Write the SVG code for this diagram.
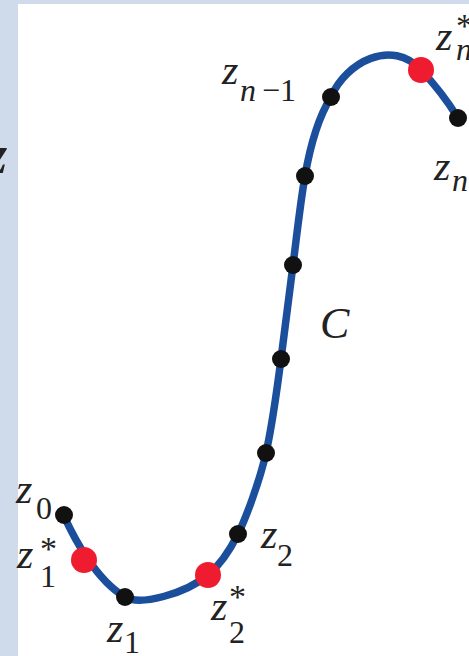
<svg xmlns="http://www.w3.org/2000/svg" width="469" height="656" viewBox="0 0 469 656">
<style>
.it{font-family:'Liberation Serif','Times New Roman',Times,serif;font-style:italic;fill:#222}
.rm{font-family:'Liberation Serif','Times New Roman',Times,serif;fill:#222}
.z{font-size:42px}
.s{font-size:32px}
.st{font-size:34px}
.bd{fill:#111}
.rd{fill:#ee1c2e}
</style>
<rect x="0" y="0" width="469" height="656" fill="#cfdbeb"/>
<rect x="18" y="4" width="451" height="652" fill="#ffffff"/>
<text class="it" x="-14" y="173" font-size="54" font-weight="bold" fill="#111">z</text>
<g id="connectors">
<path id="C-curve" d="M64,516 C74,538 96,580 125,597 C140,606 185,594 208,575 C220,565 230,550 238,534 C246,518 260,480 266,453 C272,426 277,390 281,359 C285,328 289,296 293,265 C297,234 300,205 305,176 C310,147 318,118 331,97 C346,62 392,38 421,70 C440,90 450,105 458,118" fill="none" stroke="#1b4f9c" stroke-width="7.5" stroke-linecap="round"/>
</g>
<g id="n-z0"><circle class="bd" cx="64" cy="515" r="9"/><text class="it z" x="16" y="503">z</text><text class="rm s" x="36" y="519">0</text></g>
<g id="n-z1s"><circle class="rd" cx="84" cy="560" r="13"/><text class="it z" x="17" y="568">z</text><text class="rm st" x="40" y="560">*</text><text class="rm s" x="40" y="587">1</text></g>
<g id="n-z1"><circle class="bd" cx="125" cy="597" r="9"/><text class="it z" x="107" y="642">z</text><text class="rm s" x="124" y="653">1</text></g>
<g id="n-z2s"><circle class="rd" cx="208" cy="575" r="13"/><text class="it z" x="211" y="620">z</text><text class="rm st" x="229" y="608">*</text><text class="rm s" x="229" y="643">2</text></g>
<g id="n-z2"><circle class="bd" cx="238" cy="534" r="9"/><text class="it z" x="261" y="548">z</text><text class="rm s" x="277" y="566">2</text></g>
<g id="n-p1"><circle class="bd" cx="266" cy="453" r="9"/></g>
<g id="n-p2"><circle class="bd" cx="281" cy="359" r="9"/></g>
<g id="n-p3"><circle class="bd" cx="293" cy="265" r="9"/></g>
<g id="n-p4"><circle class="bd" cx="305" cy="176" r="9"/></g>
<g id="n-zn1"><circle class="bd" cx="331" cy="97" r="9"/><text class="it z" x="222" y="84">z</text><text class="it s" x="240" y="101">n</text><text class="rm s" x="262" y="101">−1</text></g>
<g id="n-zns"><circle class="rd" cx="421" cy="70" r="13"/><text class="it z" x="436" y="50">z</text><text class="rm st" x="456" y="37">*</text><text class="it s" x="456" y="60">n</text></g>
<g id="n-zn"><circle class="bd" cx="458" cy="118" r="9"/><text class="it z" x="434" y="180">z</text><text class="it s" x="452" y="191">n</text></g>
<g id="label-C"><text class="it" x="320" y="338" font-size="44">C</text></g>
</svg>
